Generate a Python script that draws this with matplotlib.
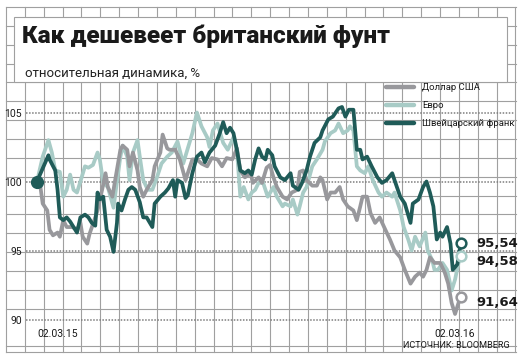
import numpy as np
import pandas as pd
import matplotlib
matplotlib.use('Agg')
import matplotlib.pyplot as plt

title = 'Как дешевеет британский фунт'
subtitle = 'относительная динамика, %'
source = 'ИСТОЧНИК: BLOOMBERG'
date_labels = ['02.03.15', '02.03.16']
date_days = [0, 366]
yticks = [90, 95, 100, 105]

names = ['Доллар США', 'Евро', 'Швейцарский франк']
colors = ['#98989c', '#a8cbc6', '#1f5b58']
end_values = [91.64, 94.58, 95.54]

# дни от 02.03.2015 и значения
usd_days = [0, 3, 5, 9, 11, 14, 18, 20, 23, 26, 31, 35, 38, 40, 44, 46, 51, 53, 57, 60,
            62, 66, 68, 73, 75, 79, 81, 84, 88, 90, 93, 96, 101, 103, 108, 110, 114, 116, 121, 125,
            130, 132, 136, 140, 144, 149, 153, 158, 162, 166, 171, 175, 178, 182, 187, 189, 194, 197, 201, 204,
            207, 210, 215, 219, 223, 228, 230, 233, 236, 241, 245, 248, 250, 254, 257, 261, 265, 268, 272, 277,
            280, 283, 285, 289, 292, 296, 300, 305, 309, 313, 318, 322, 327, 331, 335, 338, 341, 344, 348, 353,
            357, 360, 363, 366, 369, 371]
usd = [100.0, 99.6, 98.4, 97.9, 96.5, 96.1, 96.3, 96.0, 97.2, 96.7, 96.7, 96.5, 97.0, 96.0, 95.5, 96.2, 97.4, 97.9, 99.4, 100.6,
       99.6, 98.9, 99.9, 102.3, 102.6, 102.3, 101.1, 102.1, 100.8, 99.6, 98.9, 99.4, 100.1, 101.1, 102.1, 103.4, 102.4, 102.3, 102.3, 101.6,
       100.1, 100.6, 101.6, 101.6, 101.3, 101.1, 101.7, 101.6, 101.1, 101.7, 101.6, 102.4, 100.8, 100.3, 100.6, 99.9, 100.3, 99.9, 101.0, 101.2,
       100.3, 99.6, 98.9, 98.7, 99.2, 99.4, 100.7, 100.8, 100.1, 99.7, 99.7, 100.3, 100.1, 98.7, 99.2, 99.2, 99.6, 98.7, 98.2, 97.9,
       97.2, 98.2, 98.9, 98.9, 97.7, 97.0, 97.4, 96.5, 95.8, 95.0, 94.5, 93.6, 92.6, 93.1, 93.4, 93.1, 93.6, 94.5, 94.1, 94.1,
       93.4, 92.6, 91.2, 90.4, 91.2, 91.64]

eur_days = [0, 5, 10, 13, 16, 20, 23, 26, 29, 32, 35, 38, 42, 45, 49, 53, 55, 58, 62, 67,
            70, 73, 75, 79, 81, 84, 88, 90, 93, 97, 101, 105, 109, 114, 118, 123, 128, 132, 136, 140,
            144, 149, 151, 154, 158, 163, 167, 172, 175, 178, 181, 185, 188, 191, 194, 198, 202, 207, 210, 215,
            217, 222, 224, 228, 230, 233, 236, 241, 245, 250, 252, 257, 261, 264, 268, 272, 274, 277, 280, 283,
            287, 290, 294, 299, 302, 306, 311, 313, 318, 321, 325, 328, 331, 335, 340, 342, 346, 348, 351, 355,
            359, 363, 366, 369, 371]
eur = [100.0, 101.8, 103.0, 102.1, 100.8, 100.7, 98.9, 99.4, 100.5, 99.4, 99.2, 100.0, 101.1, 101.0, 101.2, 102.1, 101.6, 99.9, 99.6, 98.1,
       100.0, 101.8, 102.6, 101.8, 100.1, 102.1, 103.0, 101.8, 100.1, 99.4, 99.4, 100.3, 101.3, 101.8, 102.1, 102.9, 101.3, 102.4, 103.5, 105.0,
       104.0, 103.2, 102.5, 103.7, 104.2, 102.8, 102.3, 103.2, 102.3, 98.9, 99.6, 98.7, 99.2, 99.4, 99.9, 99.9, 98.9, 99.6, 98.9, 98.2,
       98.4, 98.2, 98.7, 97.6, 98.2, 99.2, 99.6, 101.1, 101.6, 102.3, 102.9, 103.5, 103.7, 104.2, 103.5, 103.7, 104.0, 103.7, 101.1, 100.8,
       100.6, 101.1, 100.1, 99.2, 98.9, 99.2, 98.9, 99.2, 97.9, 96.7, 95.8, 95.0, 96.0, 95.3, 96.3, 95.0, 94.3, 93.6, 93.6, 94.1,
       93.6, 92.1, 92.9, 94.1, 94.58]

chf_days = [0, 10, 11, 16, 18, 20, 23, 26, 29, 32, 35, 38, 42, 45, 48, 51, 53, 55, 58, 61,
            64, 67, 70, 71, 74, 77, 80, 83, 86, 90, 93, 96, 101, 103, 108, 112, 115, 119, 121, 123,
            127, 130, 132, 136, 140, 144, 147, 151, 156, 160, 163, 166, 169, 172, 175, 178, 182, 185, 188, 191,
            194, 197, 200, 202, 206, 208, 213, 217, 222, 224, 229, 232, 236, 239, 243, 248, 250, 255, 259, 264,
            267, 270, 273, 277, 280, 283, 285, 289, 293, 298, 302, 306, 311, 313, 318, 322, 327, 329, 334, 338,
            341, 344, 347, 350, 353, 355, 359, 362, 364, 368, 371]
chf = [100.0, 101.9, 101.6, 100.8, 99.4, 97.4, 97.2, 97.4, 97.1, 96.7, 96.3, 97.4, 97.6, 97.4, 97.0, 96.8, 99.2, 98.7, 98.9, 96.5,
       96.0, 94.9, 97.0, 98.4, 97.9, 98.7, 99.4, 99.6, 99.4, 98.5, 97.4, 97.4, 96.7, 98.4, 98.9, 99.2, 99.5, 100.1, 98.9, 100.1,
       99.9, 98.8, 99.0, 100.6, 101.8, 102.1, 101.4, 102.1, 102.6, 103.5, 104.3, 103.5, 103.9, 103.5, 102.3, 100.8, 100.6, 100.8, 100.5, 101.6,
       102.4, 101.8, 101.6, 102.3, 101.9, 101.1, 100.3, 100.1, 100.6, 99.7, 99.4, 99.9, 100.8, 101.8, 102.8, 103.2, 103.7, 104.5, 104.7, 105.3,
       105.4, 104.7, 105.2, 105.2, 102.3, 102.3, 101.6, 101.8, 101.1, 100.3, 99.9, 100.1, 100.6, 100.1, 98.9, 98.4, 97.0, 98.4, 98.7, 99.6,
       100.0, 99.2, 98.2, 95.8, 96.3, 96.0, 96.7, 95.5, 93.6, 94.0, 95.54]

series = [(eur_days, eur, 1), (usd_days, usd, 0), (chf_days, chf, 2)]

narrow = ['Roboto', 'DejaVu Sans']

fig = plt.figure(figsize=(5.22, 3.6), dpi=100)

# фон: клетка
bg = fig.add_axes([0, 0, 1, 1])
bg.set_xlim(0, 522)
bg.set_ylim(360, 0)
bg.axis('off')
gc = '#a0a0a0'
for k in range(28):
    x = 6 + 18.87 * k
    bg.plot([x, x], [7, 352], color=gc, lw=0.8)
hy = [7 + 18.85 * k for k in range(17)] + [346, 352]
for y in hy:
    bg.plot([6, 516], [y, y], color=gc, lw=0.8)
bg.add_patch(plt.Rectangle((14, 17), 493, 65, facecolor='white', edgecolor=gc, lw=0.8, zorder=3))

bg.text(22, 36, title, fontsize=17.6, fontweight='black', family=['Roboto', 'DejaVu Sans'],
        color='#1a1a1a', va='center', ha='left', zorder=4)
bg.text(25, 73, subtitle, fontsize=9.5, family=['Roboto', 'DejaVu Sans'], color='#222222',
        va='center', ha='left', zorder=4)

# легенда
leg_y = [87, 105, 123]
for i in range(3):
    bg.plot([386, 414], [leg_y[i], leg_y[i]], color=colors[i], lw=3.2, solid_capstyle='round', zorder=4)
    bg.text(422, leg_y[i], names[i], fontsize=6.8, family=narrow, color='#1a1a1a',
            va='center', ha='left', zorder=4)

bg.text(510, 345, source, fontsize=6.6, family=narrow, color='#1a1a1a', va='center', ha='right', zorder=4)

# график
ax = fig.add_axes([26 / 522, 38 / 360, 488 / 522, 240 / 360])
ax.set_zorder(2)
ax.patch.set_alpha(0)
ax.set_xlim(-9.63, 417.6)
ax.set_ylim(89.82, 107.21)
for s in ax.spines.values():
    s.set_visible(False)

for v in yticks:
    ax.axhline(v, color='#7d7d7d', lw=1.1, ls=(0, (1, 1)), zorder=1)

for d, vals, i in series:
    ax.plot(d, vals, color=colors[i], lw=2.7, solid_joinstyle='round', zorder=3, clip_on=False)

ax.plot(chf_days[0], chf[0], 'o', ms=8.5, color=colors[2], zorder=5, clip_on=False)

offsets = [-4, -4, 0]
for i in range(3):
    dd = [usd_days, eur_days, chf_days][i][-1]
    ax.plot(dd, end_values[i], 'o', ms=7, mfc='white', mec=colors[i], mew=1.8, zorder=6, clip_on=False)
    ax.annotate(('%.2f' % end_values[i]).replace('.', ','), (dd, end_values[i]),
                xytext=(11, offsets[i]), textcoords='offset points', fontsize=9.5, fontweight='bold',
                color='#1a1a1a', va='center', ha='left', annotation_clip=False)

ax.set_yticks(yticks)
ax.set_yticklabels([str(v) for v in yticks], family=narrow, fontsize=7.5, color='#1a1a1a')
ax.set_xticks(date_days)
ax.set_xticklabels(date_labels, family=narrow, fontsize=7.5, color='#1a1a1a')
ax.tick_params(length=0, pad=3)
ax.tick_params(axis='x', pad=5)
ax.get_xticklabels()[0].set_ha('left')

fig.savefig('out.png', dpi=100)
